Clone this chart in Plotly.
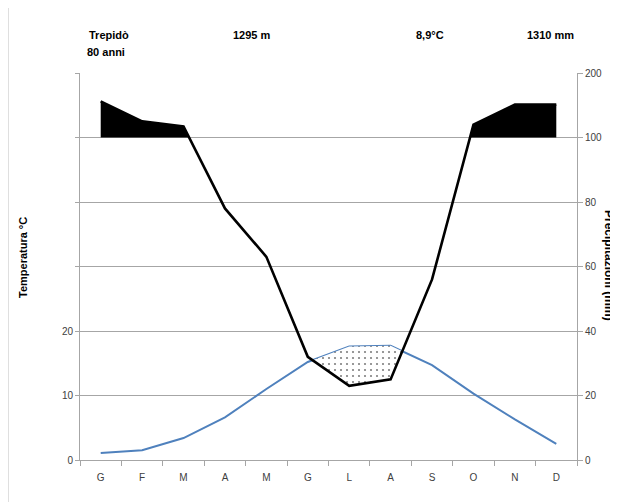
import plotly.graph_objects as go

months = ["G", "F", "M", "A", "M", "G", "L", "A", "S", "O", "N", "D"]
temperature = [1.1, 1.5, 3.4, 6.6, 11.0, 15.2, 17.6, 17.7, 14.7, 10.3, 6.3, 2.5]
precipitation = [156, 125, 117, 78, 63, 32, 23, 25, 56, 120, 151, 151]
temp_ticks = [0, 10, 20, 30, 40, 50, 60]
temp_ticktext = ["0", "10", "20", "", "", "", ""]
prec_ticks = [0, 20, 40, 60, 80, 100, 200]

FONT = "Liberation Sans Narrow, Arial Narrow, Liberation Sans, Arial, sans-serif"


def scale_p(p):
    # Walter-Lieth style: above 100 mm the scale is compressed 1:5
    return p if p <= 100 else 100 + (p - 100) / 5.0


xs = list(range(len(months)))
P = [scale_p(p) for p in precipitation]
T2 = [2 * t for t in temperature]  # 10 degC = 20 mm

# wet-season black polygons (precipitation above 100 mm)
wet_polys = []
cur = None
for i in range(len(xs)):
    if P[i] > 100:
        if cur is None:
            if i > 0:
                f = (P[i - 1] - 100) / (P[i - 1] - P[i])
                cur = [(xs[i - 1] + f, 100)]
            else:
                cur = [(xs[i], 100)]
        cur.append((xs[i], P[i]))
    else:
        if cur is not None:
            f = (P[i - 1] - 100) / (P[i - 1] - P[i])
            cur.append((xs[i - 1] + f, 100))
            wet_polys.append(cur)
            cur = None
if cur is not None:
    cur.append((xs[-1], 100))
    wet_polys.append(cur)

# arid polygon (temperature curve above precipitation)
d = [T2[i] - P[i] for i in range(len(xs))]
arid_polys = []
i = 1
while i < len(xs):
    if d[i] > 0 and d[i - 1] <= 0:
        f = -d[i - 1] / (d[i] - d[i - 1])
        x0 = xs[i - 1] + f
        y0 = P[i - 1] + f * (P[i] - P[i - 1])
        top = [(x0, y0)]
        bot = []
        j = i
        while j < len(xs) and d[j] > 0:
            top.append((xs[j], T2[j]))
            bot.append((xs[j], P[j]))
            j += 1
        if j < len(xs):
            f = d[j - 1] / (d[j - 1] - d[j])
            x1 = xs[j - 1] + f
            y1 = P[j - 1] + f * (P[j] - P[j - 1])
            top.append((x1, y1))
        arid_polys.append(top + bot[::-1])
        i = j
    i += 1

fig = go.Figure()
for poly in wet_polys:
    fig.add_trace(go.Scatter(x=[p[0] for p in poly], y=[p[1] for p in poly],
                             fill="toself", fillcolor="black", mode="lines",
                             line=dict(width=0, color="black"), yaxis="y2",
                             hoverinfo="skip", showlegend=False))
for poly in arid_polys:
    fig.add_trace(go.Scatter(x=[p[0] for p in poly], y=[p[1] for p in poly],
                             fill="toself", fillcolor="white", mode="lines",
                             line=dict(width=0), yaxis="y2",
                             fillpattern=dict(shape=".", fgcolor="black", bgcolor="white",
                                              size=6, solidity=0.1),
                             hoverinfo="skip", showlegend=False))

fig.add_trace(go.Scatter(x=xs, y=temperature, mode="lines", name="Temperatura",
                         line=dict(color="#4F81BD", width=2), yaxis="y", showlegend=False))
fig.add_trace(go.Scatter(x=xs, y=P, mode="lines", name="Precipitazioni",
                         line=dict(color="black", width=2.6), yaxis="y2", showlegend=False))

# plot-area edges in page pixels; the page body adds an 8 px offset
OFF = 8
L, R, T, B = 80, 577, 73, 460
W, H = R - L, B - T


def px(x):
    return (x - L) / W


def py(y):
    return (B - y) / H


grid = "#A6A6A6"
tickfont = dict(family=FONT, size=10, color="#404040")

fig.update_layout(
    width=618, height=502,
    margin=dict(l=L - OFF, r=618 - (R - OFF), t=T - OFF, b=502 - (B - OFF)),
    paper_bgcolor="white", plot_bgcolor="white",
    xaxis=dict(range=[-0.5, 11.5], tickmode="array", tickvals=xs, ticktext=months,
               ticks="", showgrid=False, zeroline=False, showline=True, linecolor=grid,
               linewidth=1, tickfont=tickfont, ticklabelstandoff=8,
               minor=dict(tickmode="array", tickvals=[x - 0.5 for x in xs] + [11.5],
                          ticks="outside", ticklen=5, tickcolor=grid, showgrid=False)),
    yaxis=dict(range=[0, 60], tickmode="array", tickvals=temp_ticks, ticktext=temp_ticktext,
               ticks="outside", ticklen=4, tickcolor=grid, showgrid=True, gridcolor=grid,
               gridwidth=1, zeroline=False, showline=True, linecolor=grid, tickfont=tickfont),
    yaxis2=dict(range=[0, 120], overlaying="y", side="right", tickmode="array",
                tickvals=[scale_p(v) for v in prec_ticks], ticktext=[str(v) for v in prec_ticks],
                ticks="outside", ticklen=5, tickcolor=grid, showgrid=False, zeroline=False,
                showline=True, linecolor=grid, tickfont=tickfont),
)

hfont = dict(family=FONT, size=11, color="black")
ann = [
    ("<b>Trepidò</b>", 87, 35, "left"),
    ("<b>80 anni</b>", 85, 52, "left"),
    ("<b>1295 m</b>", 231, 35, "left"),
    ("<b>8,9°C</b>", 414, 35, "left"),
    ("<b>1310 mm</b>", 525, 35, "left"),
]
for text, x, y, anchor in ann:
    fig.add_annotation(text=text, x=px(x), y=py(y), xref="paper", yref="paper",
                       xanchor=anchor, yanchor="middle", showarrow=False, font=hfont)

fig.add_annotation(text="<b>Temperatura °C</b>", x=px(15), y=py(258), xref="paper", yref="paper",
                   textangle=-90, showarrow=False, font=dict(family=FONT, size=11, color="black"))
fig.add_annotation(text="<b>Precipitazioni (mm)</b>", x=px(618), y=py(265), xref="paper",
                   yref="paper", textangle=90, showarrow=False,
                   font=dict(family=FONT, size=12, color="black"))

fig.add_shape(type="line", xref="paper", yref="paper", x0=px(8), x1=px(8), y0=py(0), y1=py(502),
              line=dict(color="#BFBFBF", width=1))

fig.write_html("out.html")
